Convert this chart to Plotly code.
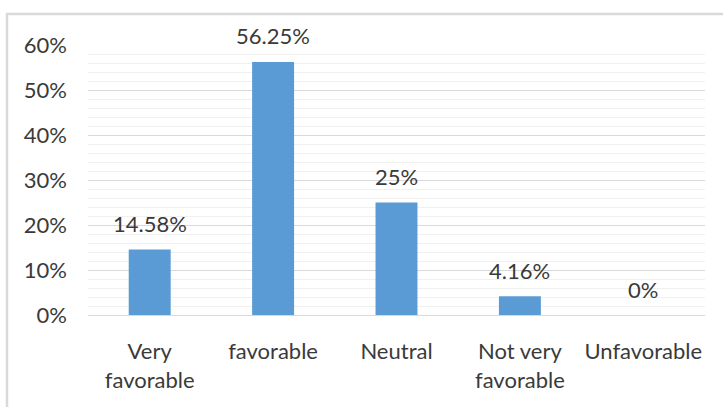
import plotly.graph_objects as go

# Survey response shares (percent)
categories = ["Very<br>favorable", "favorable", "Neutral", "Not very<br>favorable", "Unfavorable"]
values = [14.58, 56.25, 25, 4.16, 0]
value_labels = ["14.58%", "56.25%", "25%", "4.16%", "0%"]
y_ticks = [0, 10, 20, 30, 40, 50, 60]

BAR_COLOR = "#5B9BD5"
TEXT_COLOR = "#3a3a3a"
FONT = "Lato"
FSIZE = 22

fig = go.Figure()
fig.add_trace(go.Bar(
    x=categories,
    y=values,
    marker=dict(color=BAR_COLOR, line=dict(width=0)),
    width=0.34,
    hoverinfo="skip",
))

# value labels above each bar
for cat, v, lab in zip(categories, values, value_labels):
    fig.add_annotation(
        x=cat, y=v, text=lab, showarrow=False,
        yanchor="middle", yshift=26,
        font=dict(family=FONT, size=FSIZE, color=TEXT_COLOR),
    )

L, R, T, B = 88, 18, 45, 92
W, H = 723, 407
pw, ph = W - L - R, H - T - B

# outer chart frame
fig.add_shape(
    type="rect", xref="paper", yref="paper",
    x0=(7 - L) / pw, x1=(W + 20 - L) / pw,
    y0=-(H + 20 - (H - B)) / ph, y1=(H - B - 14) / ph,
    line=dict(color="#d9d9d9", width=2.5),
    fillcolor="rgba(0,0,0,0)", layer="below",
)

fig.update_layout(
    width=W, height=H,
    margin=dict(l=L, r=R, t=T, b=B, pad=0),
    paper_bgcolor="white", plot_bgcolor="white",
    showlegend=False,
    font=dict(family=FONT, size=FSIZE, color=TEXT_COLOR),
    xaxis=dict(
        showgrid=False, showline=False, zeroline=False,
        ticks="", ticklabelstandoff=21,
        tickfont=dict(family=FONT, size=FSIZE, color=TEXT_COLOR),
        fixedrange=True,
    ),
    yaxis=dict(
        range=[0, 60],
        tickvals=y_ticks,
        ticktext=[f"{t}%" for t in y_ticks],
        showgrid=True, gridcolor="#d9d9d9", gridwidth=1.3,
        zeroline=True, zerolinecolor="#d9d9d9", zerolinewidth=1.3,
        showline=False, ticks="", ticklabelstandoff=20,
        minor=dict(dtick=2, showgrid=True, gridcolor="#f0f0f0", gridwidth=1.3),
        tickfont=dict(family=FONT, size=FSIZE, color=TEXT_COLOR),
        fixedrange=True,
    ),
)

fig.write_html("out.html")
